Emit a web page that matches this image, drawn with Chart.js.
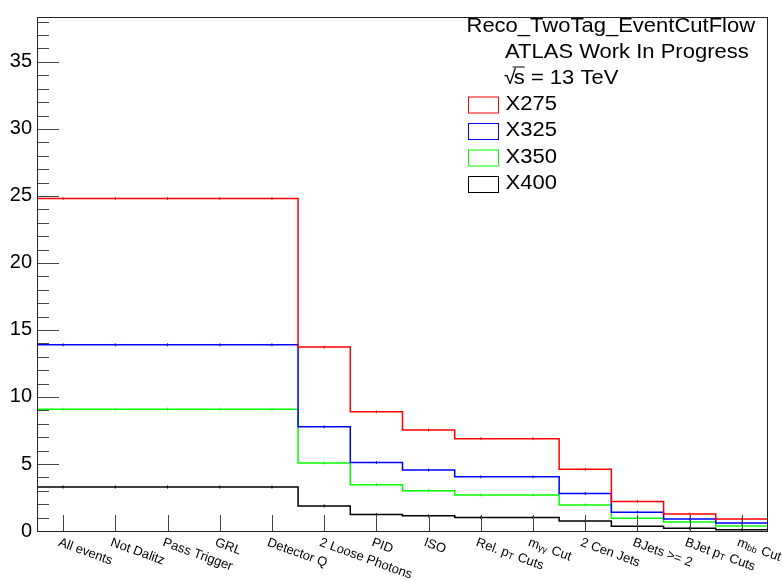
<!DOCTYPE html>
<html>
<head>
<meta charset="utf-8">
<script src="https://cdn.jsdelivr.net/npm/chart.js@4.4.1/dist/chart.umd.min.js"></script>
<style>
html,body{margin:0;padding:0;background:#fff;}
canvas{display:block;}
</style>
</head>
<body>
<canvas id="c" width="783" height="580"></canvas>
<script>
const categories = ["All events","Not Dalitz","Pass Trigger","GRL","Detector Q","2 Loose Photons","PID","ISO","Rel. p_{T} Cuts","m_{\u03b3\u03b3} Cut","2 Cen Jets","BJets >= 2","BJet p_{T} Cuts","m_{bb} Cut"];
const seriesNames = ["X275","X325","X350","X400"];
const seriesColors = ["#ff0000","#0000ff","#00ff00","#000000"];
const X275 = [24.81,24.81,24.81,24.81,24.81,13.72,8.89,7.54,6.89,6.89,4.60,2.21,1.26,0.89];
const X325 = [13.89,13.89,13.89,13.89,13.89,7.77,5.11,4.55,4.04,4.04,2.79,1.40,0.89,0.60];
const X350 = [9.09,9.09,9.09,9.09,9.09,5.08,3.45,3.01,2.69,2.69,1.94,0.96,0.67,0.38];
const X400 = [3.28,3.28,3.28,3.28,3.28,1.87,1.23,1.13,1.01,1.01,0.75,0.35,0.20,0.09];
const seriesValues = [X275,X325,X350,X400];
const yMajorLabels = [0,5,10,15,20,25,30,35];
const titleLines = ["Reco_TwoTag_EventCutFlow","ATLAS Work In Progress","13 TeV"];

function stepData(vals){
  const pts = vals.map((v,i)=>({x:i,y:v}));
  pts.push({x:vals.length,y:vals[vals.length-1]});
  return pts;
}

const datasets = [];
seriesValues.forEach((vals,k)=>{
  datasets.push({
    label: seriesNames[k], data: stepData(vals), borderColor: seriesColors[k],
    borderWidth: 1.5, stepped: true, pointRadius: 0, fill: false
  });
});
seriesValues.forEach((vals,k)=>{
  datasets.push({
    label: seriesNames[k]+"_err", data: vals.map((v,i)=>({x:i+0.5,y:v})),
    showLine:false, pointStyle:'line', rotation:90, pointRadius:1.5,
    borderColor: seriesColors[k], borderWidth:1
  });
});

const FONT = "'Liberation Sans', Arial, sans-serif";

function drawRich(ctx, label, size){
  const parts = [];
  const re = /_\{([^}]*)\}/g;
  let last = 0, m;
  while ((m = re.exec(label)) !== null){
    if (m.index > last) parts.push({t:label.slice(last,m.index), sub:false});
    parts.push({t:m[1], sub:true});
    last = re.lastIndex;
  }
  if (last < label.length) parts.push({t:label.slice(last), sub:false});
  let x = 0;
  parts.forEach(p=>{
    const fs = p.sub ? Math.round(size*0.7) : size;
    ctx.font = fs + "px " + FONT;
    ctx.fillText(p.t, x, p.sub ? 4 : 0);
    x += ctx.measureText(p.t).width + (p.sub ? 1 : 0);
  });
}

const rootStyle = {
  id:'rootStyle',
  afterDatasetsDraw(chart){
    const {ctx, chartArea:a, scales:{x,y}} = chart;
    ctx.save();
    ctx.lineWidth = 1;
    ctx.strokeStyle = '#444';
    for (let v = 0; v <= Math.floor(y.max); v++){
      const py = Math.round(y.getPixelForValue(v)) + 0.5;
      const len = (v % 5 === 0) ? 22 : 12;
      ctx.beginPath(); ctx.moveTo(a.left, py); ctx.lineTo(a.left+len, py); ctx.stroke();
    }
    categories.forEach((c,i)=>{
      const px = Math.round(x.getPixelForValue(i+0.5)) + 0.5;
      ctx.beginPath(); ctx.moveTo(px, a.bottom); ctx.lineTo(px, a.bottom-16); ctx.stroke();
    });
    ctx.strokeStyle = '#222';
    ctx.strokeRect(a.left+0.5, a.top+0.5, a.right-a.left-1, a.bottom-a.top);
    ctx.restore();
  },
  afterDraw(chart){
    const {ctx, chartArea:a, scales:{x}} = chart;
    ctx.save();
    ctx.fillStyle = '#000';
    ctx.textBaseline = 'top';
    ctx.textAlign = 'left';
    categories.forEach((c,i)=>{
      const px = x.getPixelForValue(i+0.5);
      ctx.save();
      ctx.translate(px-2, a.bottom+5);
      ctx.rotate(20*Math.PI/180);
      drawRich(ctx, c, 13);
      ctx.restore();
    });
    ctx.textBaseline = 'alphabetic';
    function txt(t, px, py){
      ctx.save(); ctx.translate(px, py); ctx.scale(1.1,1);
      ctx.font = "20px " + FONT; ctx.fillText(t, 0, 0); ctx.restore();
    }
    txt(titleLines[0], 466.5, 31.5);
    txt(titleLines[1], 505, 57.5);
    ctx.save(); ctx.translate(505, 83.5); ctx.scale(1.1,1);
    ctx.font = "20px " + FONT;
    ctx.fillText("\u221A", -1, 0);
    const sw = ctx.measureText("\u221A").width;
    ctx.fillText("s", sw-3, 0);
    const ssw = ctx.measureText("s").width;
    ctx.fillText(" = " + titleLines[2], sw-3+ssw, 0);
    ctx.lineWidth = 1;
    ctx.strokeStyle = '#000';
    ctx.beginPath(); ctx.moveTo(sw-4, -16.5); ctx.lineTo(sw-3+ssw, -16.5); ctx.stroke();
    ctx.restore();
    const baselines = [109.5, 136, 162.5, 189];
    seriesNames.forEach((n,k)=>{
      ctx.strokeStyle = seriesColors[k];
      ctx.lineWidth = 1;
      ctx.strokeRect(468.5, baselines[k]-12.5, 30, 16);
      ctx.fillStyle = '#000';
      txt(n, 505.5, baselines[k]);
    });
    ctx.restore();
  }
};

new Chart(document.getElementById('c'), {
  type:'line',
  data:{datasets},
  options:{
    responsive:false,
    animation:false,
    layout:{padding:{top:7,right:15,left:0,bottom:0}},
    plugins:{legend:{display:false}, tooltip:{enabled:false}},
    scales:{
      x:{type:'linear', min:0, max:categories.length,
         ticks:{display:false}, grid:{display:false, drawTicks:false}, border:{display:false},
         afterFit(s){ s.height = 49; }},
      y:{type:'linear', min:0, max:38.35,
         ticks:{stepSize:1, autoSkip:false, padding:5, color:'#000',
                font:{family:"'Liberation Sans', Arial, sans-serif", size:20},
                callback:(v)=> yMajorLabels.includes(v) ? String(v) : ''},
         grid:{display:false, drawTicks:false}, border:{display:false},
         afterFit(s){ s.width = 37; }}
    }
  },
  plugins:[rootStyle]
});
</script>
</body>
</html>
